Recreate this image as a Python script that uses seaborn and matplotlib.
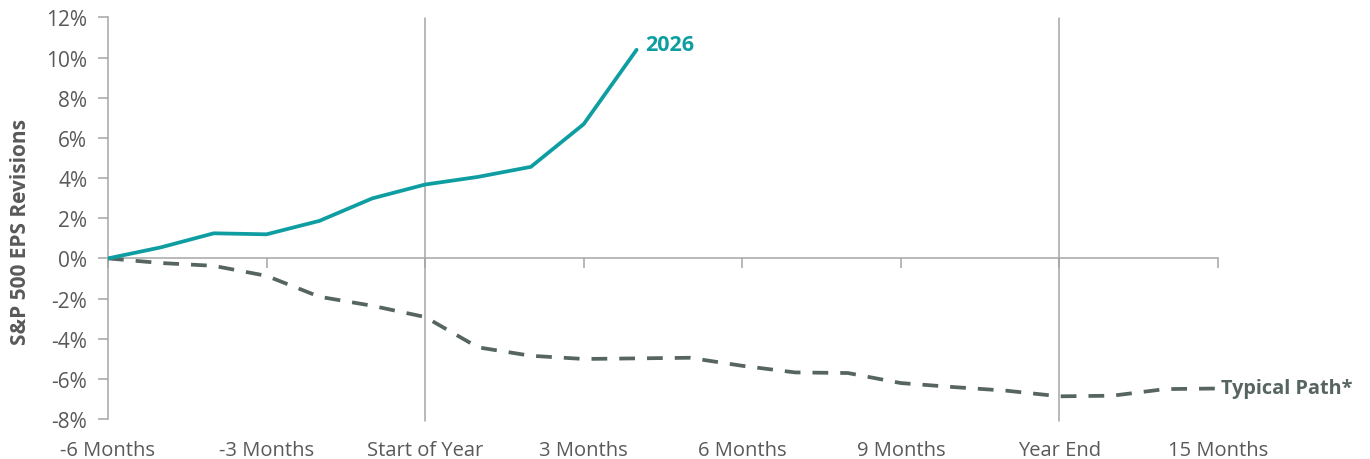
import matplotlib
matplotlib.use("Agg")
import matplotlib.pyplot as plt
import pandas as pd
import seaborn as sns
from matplotlib.ticker import FuncFormatter, FixedLocator

# Monthly EPS revision paths, relative to six months before the start of the year
months_2026 = [-6, -5, -4, -3, -2, -1, 0, 1, 2, 3, 4]
eps_2026 = [0.0, 0.55, 1.25, 1.20, 1.87, 2.99, 3.68, 4.06, 4.56, 6.69, 10.39]

months_typical = list(range(-6, 16))
eps_typical = [0.0, -0.23, -0.37, -0.87, -1.91, -2.36, -2.92,
               -4.43, -4.85, -5.01, -4.98, -4.95, -5.35, -5.68, -5.71, -6.21,
               -6.41, -6.59, -6.87, -6.84, -6.51, -6.48]

tick_months = [-6, -3, 0, 3, 6, 9, 12, 15]
tick_labels = ["-6 Months", "-3 Months", "Start of Year", "3 Months",
               "6 Months", "9 Months", "Year End", "15 Months"]
y_ticks = list(range(-8, 13, 2))

TEAL = "#0E9EA1"
SLATE = "#56655F"
AXIS = "#A6A6A6"
TEXT = "#595959"

sns.set_style("white")
plt.rcParams["font.family"] = ["Open Sans", "DejaVu Sans"]

fig = plt.figure(figsize=(13.7, 4.6), dpi=100)
ax = fig.add_axes([108 / 1370, 1 - 420 / 460, (1218 - 108) / 1370, (420 - 18.5) / 460])

df_2026 = pd.DataFrame({"month": months_2026, "eps": eps_2026})
df_typ = pd.DataFrame({"month": months_typical, "eps": eps_typical})

# Reference lines for the start and end of the year
for m in (0, 12):
    ax.axvline(m, ymin=-0.005, ymax=1.0, color=AXIS, lw=1.1, zorder=1, clip_on=False)

sns.lineplot(data=df_typ, x="month", y="eps", ax=ax, color=SLATE, lw=2.7,
             zorder=3, solid_capstyle="butt")
ax.lines[-1].set_dashes([4.2, 3.2])
ax.lines[-1].set_dash_capstyle("butt")
sns.lineplot(data=df_2026, x="month", y="eps", ax=ax, color=TEAL, lw=2.7,
             zorder=4, solid_capstyle="round", solid_joinstyle="round")

ax.set_xlim(-6, 15)
ax.set_ylim(-8, 12)

# Horizontal axis runs through zero; its labels sit below the plot
for s in ("top", "right"):
    ax.spines[s].set_visible(False)
ax.spines["bottom"].set_position(("data", 0))
for s in ("bottom", "left"):
    ax.spines[s].set_color(AXIS)
    ax.spines[s].set_linewidth(1.1)

ax.xaxis.set_major_locator(FixedLocator(tick_months))
ax.tick_params(axis="x", bottom=True, direction="out", length=7, width=1.1,
               color=AXIS, labelbottom=False)
ax.set_yticks(y_ticks)
ax.yaxis.set_major_formatter(FuncFormatter(lambda v, _: f"{v:.0f}%"))
ax.tick_params(axis="y", left=True, direction="out", length=7, width=1.1,
               color=AXIS, labelsize=15, labelcolor=TEXT, pad=8)

sec = ax.secondary_xaxis("bottom")
sec.set_xticks(tick_months)
sec.set_xticklabels(tick_labels)
sec.tick_params(length=0, labelsize=14.5, labelcolor=TEXT, pad=15)
sec.spines["bottom"].set_visible(False)

ax.set_xlabel("")
ax.set_ylabel("S&P 500 EPS Revisions", fontsize=15, fontweight="bold",
              color=TEXT, labelpad=12)
ax.yaxis.set_label_coords(-0.069, 0.469)

# End-of-line series labels
ax.annotate("2026", xy=(months_2026[-1], eps_2026[-1]), xytext=(6, 4),
            textcoords="offset points", fontsize=15.5, fontweight="bold",
            color=TEAL, ha="left", va="center")
ax.annotate("Typical Path*", xy=(months_typical[-1], eps_typical[-1]), xytext=(2, 0),
            textcoords="offset points", fontsize=14.3, fontweight="bold",
            color=SLATE, ha="left", va="center", annotation_clip=False)

ax.grid(False)
fig.savefig("out.png", dpi=100, facecolor="white")
